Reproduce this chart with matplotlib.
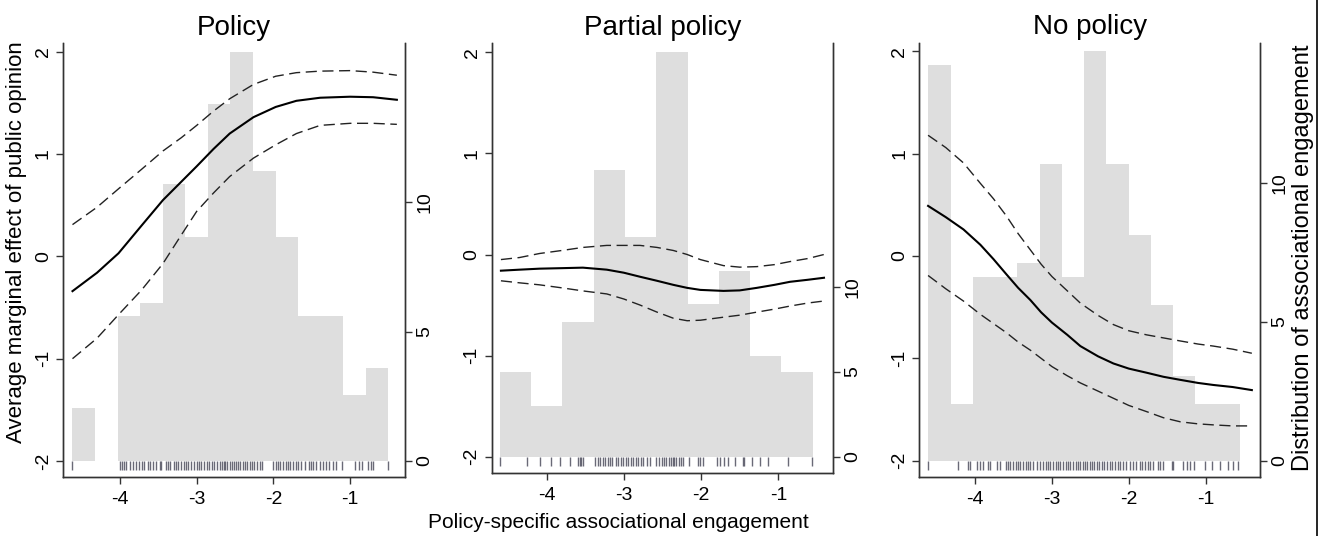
import numpy as np
import matplotlib
matplotlib.use('Agg')
import matplotlib.pyplot as plt
from matplotlib.lines import Line2D

plt.rcParams['font.family'] = ['Liberation Sans', 'DejaVu Sans']
plt.rcParams['xtick.direction'] = 'out'
plt.rcParams['ytick.direction'] = 'out'

titles = ['Policy', 'Partial policy', 'No policy']

# histogram bins (range) and bar heights
hist_range = [(-4.62, -0.50), (-4.605, -0.555), (-4.607, -0.554)]
hist_p1 = [2.06, 0, 5.62, 6.12, 10.72, 8.67, 13.8, 15.8, 11.2, 8.67, 5.62, 5.62, 2.55, 3.58]
hist_p2 = [4.96, 3.0, 7.94, 16.86, 12.9, 23.8, 8.96, 10.92, 5.94, 4.96]
hist_p3 = [14.25, 2.04, 6.62, 6.62, 7.13, 10.7, 6.62, 14.76, 10.7, 8.13, 5.6, 3.06, 2.04, 2.04]

# marginal effect curves: estimate and upper / lower bounds
x_p1 = [-4.62, -4.30, -4.02, -3.72, -3.44, -3.20, -3.0, -2.78, -2.57, -2.26, -1.97, -1.70, -1.39, -1.0, -0.70, -0.39]
est_p1 = [-0.34, -0.16, 0.03, 0.30, 0.55, 0.73, 0.88, 1.05, 1.20, 1.36, 1.46, 1.52, 1.55, 1.56, 1.555, 1.53]
upp_p1 = [0.31, 0.48, 0.66, 0.85, 1.03, 1.16, 1.28, 1.42, 1.54, 1.68, 1.76, 1.795, 1.81, 1.815, 1.80, 1.77]
low_p1 = [-1.0, -0.80, -0.57, -0.33, -0.07, 0.21, 0.44, 0.62, 0.78, 0.96, 1.09, 1.20, 1.28, 1.30, 1.30, 1.29]

x_p2 = [-4.59, -4.35, -4.09, -3.80, -3.53, -3.22, -3.0, -2.79, -2.57, -2.36, -2.18, -2.01, -1.71, -1.50, -1.28, -1.05, -0.85, -0.62, -0.41]
est_p2 = [-0.16, -0.15, -0.14, -0.135, -0.13, -0.15, -0.18, -0.22, -0.26, -0.30, -0.33, -0.35, -0.36, -0.355, -0.33, -0.30, -0.27, -0.25, -0.23]
upp_p2 = [-0.05, -0.03, 0.01, 0.04, 0.07, 0.09, 0.09, 0.09, 0.07, 0.04, 0.0, -0.05, -0.11, -0.125, -0.12, -0.10, -0.07, -0.04, 0.0]
low_p2 = [-0.26, -0.28, -0.30, -0.33, -0.36, -0.39, -0.44, -0.50, -0.57, -0.63, -0.655, -0.65, -0.62, -0.60, -0.57, -0.54, -0.51, -0.48, -0.46]

x_p3 = [-4.61, -4.38, -4.15, -3.93, -3.76, -3.59, -3.44, -3.28, -3.14, -3.0, -2.80, -2.63, -2.40, -2.20, -2.0, -1.77, -1.55, -1.33, -1.10, -0.9, -0.65, -0.40]
est_p3 = [0.49, 0.38, 0.26, 0.11, -0.03, -0.18, -0.31, -0.43, -0.55, -0.65, -0.77, -0.88, -0.98, -1.05, -1.10, -1.14, -1.18, -1.21, -1.24, -1.26, -1.28, -1.31]
upp_p3 = [1.18, 1.06, 0.91, 0.71, 0.56, 0.39, 0.22, 0.06, -0.08, -0.20, -0.34, -0.46, -0.58, -0.67, -0.73, -0.77, -0.80, -0.83, -0.86, -0.88, -0.91, -0.95]
low_p3 = [-0.19, -0.32, -0.44, -0.57, -0.66, -0.75, -0.84, -0.92, -1.00, -1.08, -1.17, -1.24, -1.32, -1.39, -1.46, -1.52, -1.58, -1.62, -1.64, -1.65, -1.66, -1.66]

# rug of observed engagement values
rug_p1 = [-4.62, -4.00, -3.97, -3.95, -3.92, -3.87, -3.83, -3.79, -3.75, -3.72, -3.69, -3.64, -3.61,
          -3.57, -3.53, -3.48, -3.46, -3.40, -3.37, -3.35, -3.30, -3.27, -3.24, -3.21, -3.17, -3.14,
          -3.11, -3.08, -3.04, -3.00, -2.97, -2.94, -2.90, -2.87, -2.84, -2.80, -2.77, -2.74, -2.70,
          -2.67, -2.65, -2.63, -2.60, -2.57, -2.54, -2.51, -2.49, -2.46, -2.43, -2.39, -2.37, -2.34,
          -2.31, -2.28, -2.25, -2.22, -2.18, -2.15, -2.00, -1.97, -1.94, -1.91, -1.87, -1.84, -1.81,
          -1.78, -1.74, -1.71, -1.68, -1.64, -1.59, -1.54, -1.51, -1.48, -1.44, -1.39, -1.35, -1.31,
          -1.27, -1.22, -1.18, -1.11, -0.94, -0.89, -0.85, -0.76, -0.73, -0.70, -0.50]
rug_p2 = [-4.60, -4.25, -4.09, -3.94, -3.83, -3.70, -3.59, -3.57, -3.55, -3.53, -3.37, -3.34, -3.31,
          -3.27, -3.24, -3.21, -3.18, -3.15, -3.10, -3.07, -3.04, -3.01, -2.97, -2.94, -2.91, -2.88,
          -2.84, -2.81, -2.78, -2.75, -2.70, -2.66, -2.58, -2.54, -2.51, -2.48, -2.45, -2.42, -2.39,
          -2.37, -2.35, -2.32, -2.29, -2.26, -2.23, -2.16, -2.04, -2.01, -1.97, -1.80, -1.75, -1.71,
          -1.65, -1.56, -1.46, -1.44, -1.34, -1.24, -1.13, -0.87, -0.57]
rug_p3 = [-4.61, -4.22, -4.09, -4.06, -3.98, -3.93, -3.90, -3.83, -3.80, -3.71, -3.67, -3.60, -3.57,
          -3.54, -3.50, -3.47, -3.44, -3.41, -3.37, -3.34, -3.31, -3.28, -3.24, -3.20, -3.16, -3.11,
          -3.08, -3.05, -3.02, -2.98, -2.95, -2.92, -2.89, -2.85, -2.82, -2.79, -2.76, -2.72, -2.69,
          -2.66, -2.63, -2.60, -2.57, -2.54, -2.51, -2.48, -2.45, -2.42, -2.39, -2.35, -2.32, -2.29,
          -2.25, -2.22, -2.18, -2.14, -2.11, -2.07, -2.03, -1.98, -1.94, -1.90, -1.86, -1.83, -1.79,
          -1.75, -1.72, -1.68, -1.62, -1.59, -1.55, -1.44, -1.42, -1.29, -1.24, -1.20, -1.15, -1.01,
          -0.92, -0.81, -0.71, -0.64, -0.58]

hists = [hist_p1, hist_p2, hist_p3]
xs = [x_p1, x_p2, x_p3]
ests = [est_p1, est_p2, est_p3]
upps = [upp_p1, upp_p2, upp_p3]
lows = [low_p1, low_p2, low_p3]
rugs = [rug_p1, rug_p2, rug_p3]

# axes boxes in figure fractions [left, bottom, width, height]
boxes = [[0.0477, 0.1101, 0.2587, 0.8097],
         [0.3719, 0.1170, 0.2584, 0.8022],
         [0.6954, 0.1107, 0.2577, 0.8097]]
xlims = [(-4.743, -0.283), (-4.71, -0.29), (-4.724, -0.294)]
ylims = [(-2.156, 2.085), (-2.164, 2.089), (-2.156, 2.085)]
ylims2 = [(-0.62, 16.16), (-0.98, 24.32), (-0.58, 15.07)]

spine_c = '#333333'
fig = plt.figure(figsize=(13.22, 5.36), dpi=100)

for i in range(3):
    ax = fig.add_axes(boxes[i])
    ax2 = ax.twinx()
    ax.set_zorder(ax2.get_zorder() + 1)
    ax.patch.set_visible(False)

    edges = np.linspace(hist_range[i][0], hist_range[i][1], len(hists[i]) + 1)
    ax2.bar(edges[:-1], hists[i], width=np.diff(edges), align='edge',
            color='#dedede', linewidth=0)
    ax2.set_ylim(*ylims2[i])
    ax2.set_yticks([0, 5, 10])
    ax2.set_yticklabels(['0', '5', '10'], rotation=90, va='center')

    ax.plot(xs[i], ests[i], color='black', lw=1.5)
    ax.plot(xs[i], upps[i], color='#222222', lw=1.0, dashes=(8, 4))
    ax.plot(xs[i], lows[i], color='#222222', lw=1.0, dashes=(8, 4))
    ax.vlines(rugs[i], -2.0, -2.09, color='#5a5a68', lw=1.0, alpha=0.9)

    ax.set_xlim(*xlims[i])
    ax.set_ylim(*ylims[i])
    ax.set_xticks([-4, -3, -2, -1])
    ax.set_xticklabels(['-4', '-3', '-2', '-1'])
    ax.set_yticks([-2, -1, 0, 1, 2])
    ax.set_yticklabels(['-2', '-1', '0', '1', '2'], rotation=90, va='center')
    ax.set_title(titles[i], fontsize=20, pad=6)

    for a in (ax, ax2):
        a.spines['top'].set_visible(False)
        for s in ('left', 'right', 'bottom'):
            a.spines[s].set_color(spine_c)
            a.spines[s].set_linewidth(1.0)
        a.tick_params(labelsize=14, length=5, width=1.0, color=spine_c, pad=3)
    ax.tick_params(axis='x', pad=5)

fig.text(0.0125, 0.548, 'Average marginal effect of public opinion', rotation=90,
         ha='center', va='center', fontsize=16)
fig.text(0.9855, 0.52, 'Distribution of associational engagement', rotation=90,
         ha='center', va='center', fontsize=17)
fig.text(0.468, 0.026, 'Policy-specific associational engagement',
         ha='center', va='center', fontsize=15)
fig.add_artist(Line2D([0.9965, 0.9965], [0, 1], color='black', lw=1.2, transform=fig.transFigure))

fig.savefig('out.png', dpi=100)
